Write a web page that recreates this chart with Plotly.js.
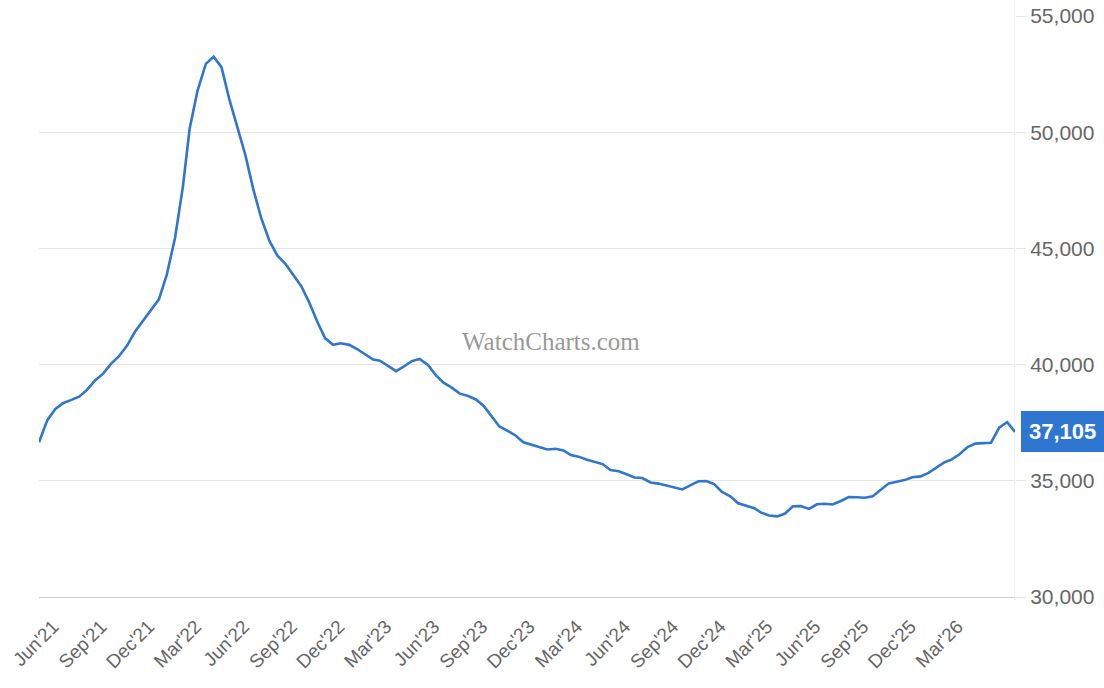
<!DOCTYPE html>
<html>
<head>
<meta charset="utf-8">
<script src="https://cdn.plot.ly/plotly-3.0.1.min.js"></script>
<style>html,body{margin:0;padding:0;background:#fff;}#chart{width:1104px;height:688px;}</style>
</head>
<body>
<div id="chart"></div>
<script>
const dates = [
"2021-05-16","2021-06-01","2021-06-16","2021-07-01","2021-07-16","2021-08-01","2021-08-16","2021-09-01","2021-09-16","2021-10-01",
"2021-10-16","2021-11-01","2021-11-16","2021-12-01","2021-12-16","2022-01-01","2022-01-16","2022-02-01","2022-02-16","2022-03-01",
"2022-03-16","2022-04-01","2022-04-16","2022-05-01","2022-05-16","2022-06-01","2022-06-16","2022-07-01","2022-07-16","2022-08-01",
"2022-08-16","2022-09-01","2022-09-16","2022-10-01","2022-10-16","2022-11-01","2022-11-16","2022-12-01","2022-12-16","2023-01-01",
"2023-01-16","2023-02-01","2023-02-16","2023-03-01","2023-03-16","2023-04-01","2023-04-16","2023-05-01","2023-05-16","2023-06-01",
"2023-06-16","2023-07-01","2023-07-16","2023-08-01","2023-08-16","2023-09-01","2023-09-16","2023-10-01","2023-10-16","2023-11-01",
"2023-11-16","2023-12-01","2023-12-16","2024-01-01","2024-01-16","2024-02-01","2024-02-16","2024-03-01","2024-03-16","2024-04-01",
"2024-04-16","2024-05-01","2024-05-16","2024-06-01","2024-06-16","2024-07-01","2024-07-16","2024-08-01","2024-08-16","2024-09-01",
"2024-09-16","2024-10-01","2024-10-16","2024-11-01","2024-11-16","2024-12-01","2024-12-16","2025-01-01","2025-01-16","2025-02-01",
"2025-02-16","2025-03-01","2025-03-16","2025-04-01","2025-04-16","2025-05-01","2025-05-16","2025-06-01","2025-06-16","2025-07-01",
"2025-07-16","2025-08-01","2025-08-16","2025-09-01","2025-09-16","2025-10-01","2025-10-16","2025-11-01","2025-11-16","2025-12-01",
"2025-12-16","2026-01-01","2026-01-16","2026-02-01","2026-02-16","2026-03-01","2026-03-16","2026-04-01","2026-04-16","2026-05-01",
"2026-05-16","2026-06-01","2026-06-16","2026-07-01"
];
const prices = [
36660,37610,38080,38340,38470,38620,38910,39330,39610,40030,
40350,40820,41410,41860,42290,42810,43860,45460,47660,50160,
51780,52940,53250,52800,51420,50160,49000,47550,46320,45320,
44700,44330,43870,43370,42690,41830,41130,40850,40920,40850,
40670,40440,40220,40170,39960,39720,39920,40150,40240,39980,
39550,39220,39020,38750,38660,38500,38220,37760,37340,37150,
36950,36660,36550,36440,36350,36380,36310,36110,36040,35910,
35830,35720,35460,35410,35280,35140,35120,34930,34880,34790,
34690,34630,34800,34980,34990,34860,34520,34330,34030,33930,
33820,33630,33510,33470,33590,33900,33910,33790,33990,34010,
33980,34130,34300,34290,34270,34330,34590,34890,34960,35030,
35150,35190,35340,35560,35800,35910,36130,36450,36600,36620,
36640,37300,37520,37105
];
const tickDates = ["2021-06-01","2021-09-01","2021-12-01","2022-03-01","2022-06-01","2022-09-01","2022-12-01","2023-03-01","2023-06-01","2023-09-01","2023-12-01","2024-03-01","2024-06-01","2024-09-01","2024-12-01","2025-03-01","2025-06-01","2025-09-01","2025-12-01","2026-03-01"];
const tickLabels = ["Jun'21","Sep'21","Dec'21","Mar'22","Jun'22","Sep'22","Dec'22","Mar'23","Jun'23","Sep'23","Dec'23","Mar'24","Jun'24","Sep'24","Dec'24","Mar'25","Jun'25","Sep'25","Dec'25","Mar'26"];
const yTicks = [30000,35000,40000,45000,50000,55000];
const watermark = "WatchCharts.com";

const lastDate = dates[dates.length-1];
const lastPrice = prices[prices.length-1];

const trace = {
  x: dates, y: prices, type: 'scatter', mode: 'lines',
  line: {color: '#2f76d1', width: 2.6},
  hoverinfo: 'skip'
};

const layout = {
  width: 1104, height: 688,
  margin: {l: 39, r: 89, t: 16, b: 91},
  paper_bgcolor: '#ffffff', plot_bgcolor: '#ffffff',
  showlegend: false,
  font: {family: 'Liberation Sans, Arial, sans-serif', color: '#666666'},
  xaxis: {
    type: 'date',
    range: [dates[0], lastDate],
    tickvals: tickDates, ticktext: tickLabels,
    tickangle: -45,
    tickfont: {size: 19, color: '#666666'},
    ticklabelstandoff: 10,
    ticklabelshift: 6,
    showgrid: false, zeroline: false,
    showline: true, linecolor: '#cccccc', linewidth: 1,
    ticks: '', fixedrange: true
  },
  yaxis: {
    side: 'right',
    range: [30000, 55000],
    tickvals: yTicks,
    tickformat: ',d',
    tickfont: {size: 21, color: '#666666'},
    gridcolor: '#e6e6e6', gridwidth: 1,
    zeroline: false,
    showline: false,
    ticks: 'outside', ticklen: 10, tickcolor: '#e6e6e6',
    fixedrange: true
  },
  shapes: [
    {type: 'line', xref: 'x', yref: 'paper', x0: lastDate, x1: lastDate, y0: 0, y1: 1.03,
     line: {color: '#e6e6e6', width: 1}, layer: 'below'}
  ],
  annotations: [
    {xref: 'paper', yref: 'paper', x: 0.525, y: 0.44, text: watermark, showarrow: false,
     font: {family: 'Liberation Serif, Times New Roman, serif', size: 25, color: '#999999'}},
    {xref: 'x', yref: 'y', x: lastDate, y: lastPrice, text: '<b>' + lastPrice.toLocaleString('en-US') + '</b>',
     showarrow: false, xanchor: 'left', yanchor: 'middle', xshift: 6,
     bgcolor: '#2f76d1', bordercolor: '#2f76d1', borderpad: 7,
     font: {family: 'Liberation Sans, Arial, sans-serif', size: 22, color: '#ffffff'}}
  ]
};

Plotly.newPlot('chart', [trace], layout, {displayModeBar: false, staticPlot: true});
</script>
</body>
</html>
